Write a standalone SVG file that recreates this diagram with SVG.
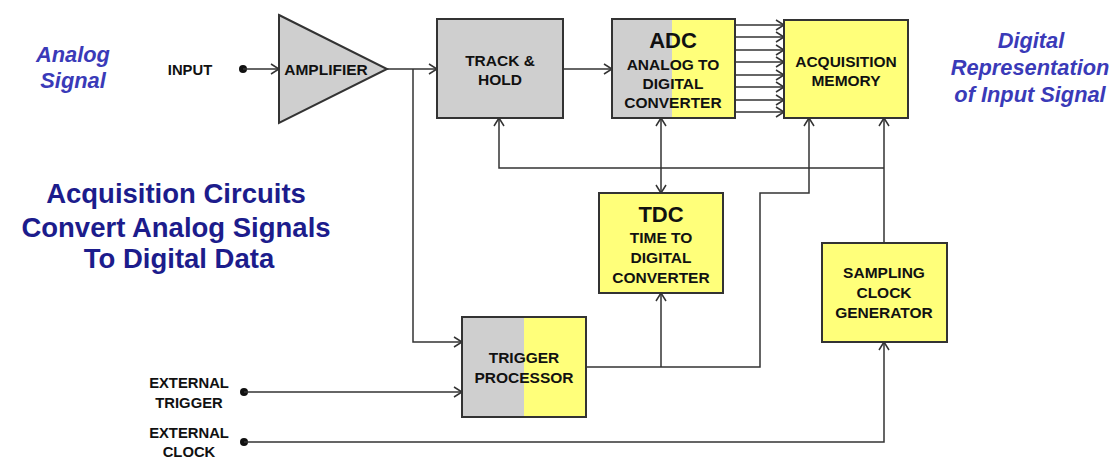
<svg xmlns="http://www.w3.org/2000/svg" width="1116" height="458" viewBox="0 0 1116 458">
<style>
.box{stroke:#333;stroke-width:2}
.gray{fill:#cfcfcf}
.yel{fill:#ffff7a}
.lbl{font-family:"Liberation Sans",Arial,sans-serif;font-weight:bold;font-size:15.5px;fill:#111;text-anchor:middle}
.big{font-size:22px}
.side{font-family:"Liberation Sans",Arial,sans-serif;font-weight:bold;font-size:14.8px;fill:#111;text-anchor:middle}
.blue{font-family:"Liberation Sans",Arial,sans-serif;font-weight:bold;font-style:italic;font-size:21.8px;fill:#3a3ab8;text-anchor:middle}
.title{font-family:"Liberation Sans",Arial,sans-serif;font-weight:bold;font-size:27.5px;fill:#1c1c8c;text-anchor:middle}
.wire{fill:none;stroke:#333;stroke-width:1.5}
.arr{marker-end:url(#ah)}
.dot{fill:#111}
</style>
<defs>
<marker id="ah" markerUnits="userSpaceOnUse" markerWidth="12" markerHeight="12" refX="10" refY="6" orient="auto">
<path d="M2,1 L10,6 L2,11" fill="none" stroke="#333" stroke-width="1.5"/>
</marker>
<marker id="as" markerUnits="userSpaceOnUse" markerWidth="12" markerHeight="12" refX="10" refY="6" orient="auto-start-reverse">
<path d="M2,1 L10,6 L2,11" fill="none" stroke="#333" stroke-width="1.5"/>
</marker>
</defs>
<rect width="1116" height="458" fill="#fff"/>

<g id="labels">
<text class="blue" x="73" y="62">Analog</text>
<text class="blue" x="73" y="88">Signal</text>
<text class="blue" x="1031" y="48">Digital</text>
<text class="blue" x="1030" y="75">Representation</text>
<text class="blue" x="1030" y="102">of Input Signal</text>
<text class="title" x="176" y="203">Acquisition Circuits</text>
<text class="title" x="176" y="237">Convert Analog Signals</text>
<text class="title" x="179" y="268">To Digital Data</text>
<text class="side" x="190" y="75">INPUT</text>
<text class="side" x="189" y="388">EXTERNAL</text>
<text class="side" x="189" y="408">TRIGGER</text>
<text class="side" x="189" y="438">EXTERNAL</text>
<text class="side" x="189" y="457">CLOCK</text>
</g>

<g id="connectors">
<circle class="dot" cx="243" cy="69" r="4"/>
<path class="wire arr" d="M243,69 H279"/>
<path class="wire arr" d="M387,69 H437"/>
<path class="wire arr" d="M413,69 V342 H462"/>
<path class="wire arr" d="M563,69 H612"/>
<path class="wire arr" d="M735,25 H784"/>
<path class="wire arr" d="M735,37 H784"/>
<path class="wire arr" d="M735,50 H784"/>
<path class="wire arr" d="M735,62 H784"/>
<path class="wire arr" d="M735,75 H784"/>
<path class="wire arr" d="M735,87 H784"/>
<path class="wire arr" d="M735,100 H784"/>
<path class="wire arr" d="M735,112 H784"/>
<path class="wire arr" d="M884,243 V118"/>
<path class="wire arr" d="M884,168 H499 V118"/>
<path class="wire" d="M661,118 V193" marker-start="url(#as)" marker-end="url(#ah)"/>
<path class="wire arr" d="M586,367 H760 V193 H809 V118"/>
<path class="wire arr" d="M661,367 V293"/>
<circle class="dot" cx="244" cy="392" r="4"/>
<path class="wire arr" d="M244,392 H462"/>
<circle class="dot" cx="244" cy="442" r="4"/>
<path class="wire arr" d="M244,442 H884 V342"/>
</g>

<g id="amplifier">
<polygon class="box gray" points="279,15 387,69 279,123"/>
<text class="lbl" x="326" y="75">AMPLIFIER</text>
</g>

<g id="track-hold">
<rect class="box gray" x="437" y="19" width="126" height="99"/>
<text class="lbl" x="500" y="66">TRACK &amp;</text>
<text class="lbl" x="500" y="85">HOLD</text>
</g>

<g id="adc">
<rect class="gray" x="612" y="19" width="60" height="99"/>
<rect class="yel" x="672" y="19" width="63" height="99"/>
<rect class="box" x="612" y="19" width="123" height="99" fill="none"/>
<text class="lbl big" x="673" y="48">ADC</text>
<text class="lbl" x="673" y="70">ANALOG TO</text>
<text class="lbl" x="673" y="89">DIGITAL</text>
<text class="lbl" x="673" y="108">CONVERTER</text>
</g>

<g id="acquisition-memory">
<rect class="box yel" x="784" y="20" width="124" height="98"/>
<text class="lbl" x="846" y="67">ACQUISITION</text>
<text class="lbl" x="846" y="86">MEMORY</text>
</g>

<g id="tdc">
<rect class="box yel" x="599" y="193" width="124" height="100"/>
<text class="lbl big" x="661" y="222">TDC</text>
<text class="lbl" x="661" y="243">TIME TO</text>
<text class="lbl" x="661" y="263">DIGITAL</text>
<text class="lbl" x="661" y="283">CONVERTER</text>
</g>

<g id="sampling-clock">
<rect class="box yel" x="822" y="243" width="125" height="99"/>
<text class="lbl" x="884" y="278">SAMPLING</text>
<text class="lbl" x="884" y="298">CLOCK</text>
<text class="lbl" x="884" y="318">GENERATOR</text>
</g>

<g id="trigger-processor">
<rect class="gray" x="462" y="317" width="62" height="100"/>
<rect class="yel" x="524" y="317" width="62" height="100"/>
<rect class="box" x="462" y="317" width="124" height="100" fill="none"/>
<text class="lbl" x="524" y="363">TRIGGER</text>
<text class="lbl" x="524" y="383">PROCESSOR</text>
</g>
</svg>
